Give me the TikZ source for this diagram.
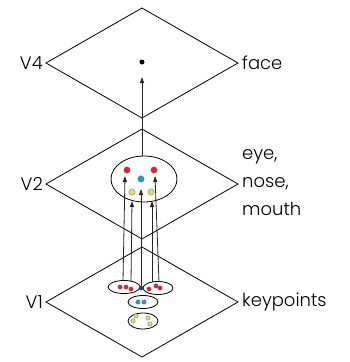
\documentclass[tikz,border=0pt]{standalone}
\usepackage{fontspec}
\setmainfont{Poppins}[UprightFont={* Light}]
\usetikzlibrary{arrows.meta,shapes.geometric}
\definecolor{dotred}{HTML}{E0222B}
\definecolor{dotblue}{HTML}{1E9AD6}
\definecolor{dotyellow}{HTML}{D8DC78}
\definecolor{dotnavy}{HTML}{2B2F8C}
\tikzset{
  plane/.style={draw=black, line width=0.8pt, line join=miter},
  group/.style={draw=black, line width=0.8pt},
  feat/.style={circle, inner sep=0pt, minimum size=6.5pt, draw=black!55, line width=0.3pt},
  kp/.style={feat, minimum size=4.5pt},
  link/.style={draw=black!85, line width=0.8pt, -{Triangle[length=6pt,width=4pt]}},
  lbl/.style={font=\fontsize{18}{28}\selectfont, inner sep=0pt},
}
\begin{document}
\begin{tikzpicture}[x=1pt,y=-1pt]
\useasboundingbox (0,0) rectangle (349,362);

% three stacked planes
\foreach \n/\cy in {four/63, two/184, one/302}{
  \coordinate (\n-n) at (142,\cy-55);
  \coordinate (\n-e) at (238,\cy);
  \coordinate (\n-s) at (142,\cy+55);
  \coordinate (\n-w) at (46,\cy);
  \draw[plane] (\n-n) -- (\n-e) -- (\n-s) -- (\n-w) -- cycle;
}

% plane labels
\node[lbl, anchor=east] (lv4) at (43,63) {V4};
\node[lbl, anchor=east] (lv2) at (43,184) {V2};
\node[lbl, anchor=east] (lv1) at (43,302) {V1};
\node[lbl, anchor=west] (lface) at (242,63) {face};
\node[lbl, anchor=west, align=left] (lparts) at (242,183) {eye,\\nose,\\mouth};
\node[lbl, anchor=west] (lkey) at (242,302) {keypoints};

% V4: face unit
\node[circle, fill=black, inner sep=0pt, minimum size=5pt] (face) at (142,62) {};

% V2: grouped parts
\node[group, ellipse, minimum width=66pt, minimum height=46pt, inner sep=0pt] (parts) at (144,179) {};
\node[feat, fill=dotred] (eyeL) at (127,170) {};
\node[feat, fill=dotred] (eyeR) at (154,170) {};
\node[feat, fill=dotblue] (nose) at (141,179) {};
\node[feat, fill=dotyellow] (mouthL) at (132,192) {};
\node[feat, fill=dotyellow] (mouthR) at (151,192) {};

% V1: keypoint groups
\node[group, ellipse, minimum width=32pt, minimum height=13pt, inner sep=0pt] (kL) at (124,287) {};
\node[group, ellipse, minimum width=30pt, minimum height=13pt, inner sep=0pt] (kR) at (158,288) {};
\node[group, ellipse, minimum width=30pt, minimum height=13pt, inner sep=0pt] (kM) at (143,302) {};
\node[group, ellipse, minimum width=30pt, minimum height=16pt, inner sep=0pt] (kB) at (143,321) {};

\node[kp, fill=dotred] (r1) at (120,287) {};
\node[kp, fill=dotred] (r2) at (126,287) {};
\node[kp, fill=dotred] (r3) at (131,289) {};
\node[kp, fill=dotred] (r4) at (149,289) {};
\node[kp, fill=dotred] (r5) at (156,286) {};
\node[kp, fill=dotred] (r6) at (160,288) {};
\node[kp, fill=dotblue] (b1) at (138,302) {};
\node[kp, fill=dotblue] (b2) at (144,302) {};
\node[kp, fill=dotyellow] (y1) at (136,316) {};
\node[kp, fill=dotyellow] (y2) at (133,321) {};
\node[kp, fill=dotyellow] (y3) at (148,318) {};
\node[kp, fill=dotyellow] (y4) at (150,324) {};

% feed-forward connections
\coordinate (s1) at (123,281);
\coordinate (s2) at (131,282);
\coordinate (s3) at (141,288);
\coordinate (s4) at (152,282);
\coordinate (s5) at (159,282);
\coordinate (t1) at (125,176);
\coordinate (t2) at (132,201);
\coordinate (t3) at (141,189);
\coordinate (t4) at (152,201);
\coordinate (t5) at (155,176);
\draw[link] (s1) -- (t1);
\draw[link] (s2) -- (t2);
\draw[link] (s3) -- (t3);
\draw[link] (s4) -- (t4);
\draw[link] (s5) -- (t5);
\draw[link] (parts.north -| face) -- ([yshift=-15pt]face.center);
\node[kp, fill=dotnavy] (c0) at (s3) {};
\end{tikzpicture}
\end{document}
